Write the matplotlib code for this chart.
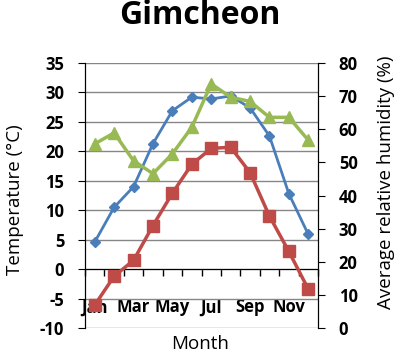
import matplotlib
matplotlib.use("Agg")
import matplotlib.pyplot as plt
from matplotlib.ticker import FixedLocator, NullFormatter

months = ["Jan", "Feb", "Mar", "Apr", "May", "Jun", "Jul", "Aug", "Sep", "Oct", "Nov", "Dec"]
tick_labels = ["Jan", "", "Mar", "", "May", "", "Jul", "", "Sep", "", "Nov", ""]
temp_max = [4.6, 10.5, 14.0, 21.3, 26.9, 29.2, 28.9, 29.4, 27.4, 22.6, 12.8, 5.9]
temp_min = [-6.1, -1.2, 1.5, 7.4, 12.9, 17.8, 20.5, 20.7, 16.4, 9.0, 3.0, -3.4]
humidity = [55.6, 58.9, 50.5, 46.6, 52.6, 60.6, 73.7, 69.7, 68.4, 63.6, 63.6, 56.7]

plt.rcParams['font.family'] = ['Open Sans', 'DejaVu Sans']
plt.rcParams['axes.unicode_minus'] = False

fig = plt.figure(figsize=(4.0, 3.52), dpi=100)
ax = fig.add_axes([0.2125, 0.068, 0.5825, 0.753])
ax2 = ax.twinx()

x = list(range(len(months)))
ax.set_xlim(-0.5, 11.5)
ax.set_ylim(-10, 35)
ax2.set_ylim(0, 80)

ax.set_yticks(range(-10, 36, 5))
ax.yaxis.grid(True, color='#868686', linewidth=1)
ax.set_axisbelow(True)

ax.spines['bottom'].set_position(('data', 0))
ax.spines['bottom'].set_color('black')
ax.spines['top'].set_visible(False)
ax2.spines['top'].set_visible(False)
ax2.spines['bottom'].set_visible(False)

ax.set_xticks(x)
ax.set_xticklabels(tick_labels, fontsize=12, fontweight='bold')
ax.tick_params(axis='x', which='major', length=0, pad=21)
ax.xaxis.set_minor_locator(FixedLocator([i + 0.5 for i in range(-1, 12)]))
ax.xaxis.set_minor_formatter(NullFormatter())
ax.tick_params(axis='x', which='minor', length=5, direction='out', width=1)
ax.tick_params(axis='y', length=5, direction='out', labelsize=12, pad=10)
for t in ax.get_yticklabels():
    t.set_fontweight('bold')

ax2.set_yticks(range(0, 81, 10))
ax2.tick_params(axis='y', length=5, direction='out', labelsize=12, pad=10)
for t in ax2.get_yticklabels():
    t.set_fontweight('bold')

ax.plot(x, temp_max, color='#4A7EBB', linewidth=2, marker='D', markersize=5, zorder=5, clip_on=False)
ax.plot(x, temp_min, color='#BE4B48', linewidth=2.5, marker='s', markersize=8, zorder=5, clip_on=False)
ax2.plot(x, humidity, color='#98B954', linewidth=2.5, marker='^', markersize=9, zorder=5, clip_on=False)

ax.set_ylabel('Temperature (°C)', fontsize=13.5)
ax.yaxis.set_label_coords(-0.262, 0.483)
ax2.set_ylabel('Average relative humidity (%)', fontsize=13.5)
ax2.yaxis.set_label_coords(1.255, 0.551)
fig.text(0.5, 0.022, 'Month', ha='center', va='center', fontsize=13.5)
fig.text(0.5, 0.957, 'Gimcheon', ha='center', va='center', fontsize=23, fontweight='bold')

fig.savefig('out.png', dpi=100)
